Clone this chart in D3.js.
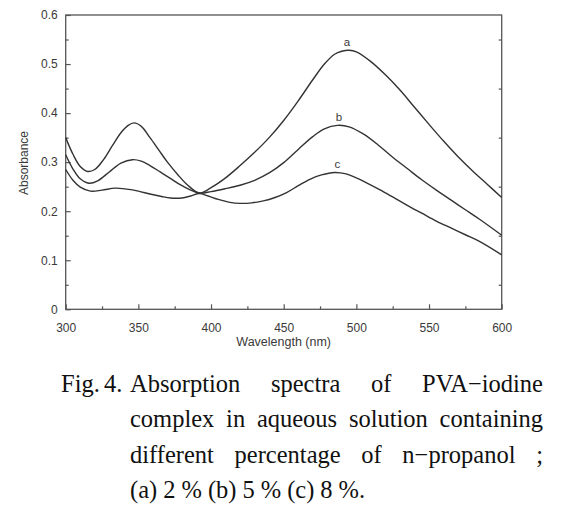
<!DOCTYPE html>
<html>
<head>
<meta charset="utf-8">
<script src="https://cdn.jsdelivr.net/npm/d3@7/dist/d3.min.js"></script>
<style>
  html, body { margin: 0; padding: 0; background: #fff; }
  svg { display: block; }
</style>
</head>
<body>
<svg id="chart" width="564" height="509"></svg>
<script>
// ---------------- data ----------------
const wavelengthA = [300,305,310,315,320,326,332,338,343,347,352,358,364,370,377,384,392,400,410,420,430,440,450,460,470,478,485,490,495,500,510,520,530,540,550,560,570,580,590,600];
const absorbA     = [0.350,0.316,0.291,0.281,0.285,0.305,0.333,0.360,0.375,0.380,0.373,0.350,0.325,0.300,0.275,0.253,0.237,0.248,0.268,0.293,0.320,0.350,0.385,0.425,0.468,0.500,0.520,0.526,0.528,0.525,0.505,0.478,0.447,0.412,0.377,0.343,0.311,0.282,0.255,0.228];

const wavelengthB = [300,305,310,316,322,330,338,346,352,358,365,372,380,392,400,410,420,430,440,450,460,470,478,487,495,505,515,525,535,545,555,565,575,585,600];
const absorbB     = [0.315,0.286,0.266,0.257,0.262,0.280,0.298,0.305,0.302,0.293,0.280,0.267,0.252,0.237,0.240,0.246,0.253,0.263,0.278,0.299,0.326,0.352,0.368,0.375,0.372,0.357,0.335,0.310,0.287,0.264,0.243,0.223,0.203,0.183,0.151];

const wavelengthC = [300,305,310,317,325,334,342,350,358,366,372,380,386,392,398,405,413,420,428,436,444,452,460,468,476,485,493,500,507,516,525,535,545,555,565,575,585,600];
const absorbC     = [0.285,0.263,0.249,0.241,0.243,0.247,0.245,0.241,0.235,0.230,0.227,0.227,0.231,0.236,0.231,0.224,0.218,0.216,0.217,0.221,0.228,0.238,0.252,0.265,0.274,0.279,0.276,0.268,0.258,0.244,0.229,0.212,0.196,0.180,0.166,0.152,0.138,0.111];

const seriesLabels = ["a", "b", "c"];
const labelWavelengths = [493.5, 488, 487];
const xTicksMajor = [300,350,400,450,500,550,600];
const xTicksMinor = [325,375,425,475,525,575];
const yTicksMajor = [0,0.1,0.2,0.3,0.4,0.5,0.6];
const yTicksMinor = [0.05,0.15,0.25,0.35,0.45,0.55];
const yTickLabels = ["0","0.1","0.2","0.3","0.4","0.5","0.6"];
const xTitle = "Wavelength (nm)";
const yTitle = "Absorbance";
const captionLines = [
  ["Absorption","spectra","of","PVA\u2212iodine"],
  ["complex","in","aqueous","solution","containing"],
  ["different","percentage","of","n\u2212propanol",";"],
  ["(a)","2","%","(b)","5","%","(c)","8","%."]
];
const captionLead = ["Fig.", "4."];

// ---------------- layout ----------------
const svg = d3.select("#chart");
const X0 = 65.7, X1 = 501.7, Y0 = 309.3, Y1 = 15;
const x = d3.scaleLinear().domain([300,600]).range([X0, X1]);
const y = d3.scaleLinear().domain([0,0.6]).range([Y0, Y1]);
const ink = "#3a3a3a";
const sans = "'Liberation Sans', Arial, sans-serif";

// frame
svg.append("rect")
  .attr("x", X0).attr("y", Y1)
  .attr("width", X1 - X0).attr("height", Y0 - Y1)
  .attr("fill", "none").attr("stroke", "#555").attr("stroke-width", 1.3);

// bottom axis (ticks inward)
const bottom = svg.append("g").attr("transform", `translate(0,${Y0})`);
bottom.call(d3.axisBottom(x).tickValues(xTicksMajor).tickSize(-5).tickPadding(14).tickFormat(d3.format("d")));
bottom.append("g").call(d3.axisBottom(x).tickValues(xTicksMinor).tickSize(-3).tickFormat(""));
// left axis
const left = svg.append("g").attr("transform", `translate(${X0},0)`);
left.call(d3.axisLeft(y).tickValues(yTicksMajor).tickSize(-5).tickPadding(8).tickFormat((d,i) => yTickLabels[i]));
left.append("g").call(d3.axisLeft(y).tickValues(yTicksMinor).tickSize(-3).tickFormat(""));
// right axis (only odd minor ticks)
const right = svg.append("g").attr("transform", `translate(${X1},0)`);
right.call(d3.axisRight(y).tickValues(yTicksMinor).tickSize(-3).tickFormat(""));

svg.selectAll(".domain").remove();
svg.selectAll(".tick line").attr("stroke", "#555").attr("stroke-width", 1.2);
svg.selectAll(".tick text").attr("fill", ink).attr("font-family", sans).attr("font-size", 12);

// axis titles
svg.append("text").attr("x", (X0 + X1) / 2).attr("y", 346)
  .attr("text-anchor", "middle").attr("font-family", sans).attr("font-size", 12.5).attr("fill", ink)
  .text(xTitle);
svg.append("text").attr("transform", "translate(28,163) rotate(-90)")
  .attr("text-anchor", "middle").attr("font-family", sans).attr("font-size", 12).attr("fill", ink)
  .text(yTitle);

// curves
const line = d3.line().x(d => x(d[0])).y(d => y(d[1])).curve(d3.curveCatmullRom.alpha(0.5));
const curves = [
  d3.zip(wavelengthA, absorbA),
  d3.zip(wavelengthB, absorbB),
  d3.zip(wavelengthC, absorbC)
];
svg.append("g").selectAll("path").data(curves).join("path")
  .attr("d", line).attr("fill", "none").attr("stroke", "#333").attr("stroke-width", 1.4);

// curve labels above peaks
curves.forEach((pts, i) => {
  const peak = d3.max(pts.filter(p => p[0] > 450), p => p[1]);
  svg.append("text").attr("x", x(labelWavelengths[i])).attr("y", y(peak) - 4)
    .attr("text-anchor", "middle").attr("font-family", sans).attr("font-size", 11.5).attr("fill", ink)
    .text(seriesLabels[i]);
});

// caption
const serif = "'Liberation Serif', 'DejaVu Serif', serif";
const capIndent = 130, capRight = 543, capBase = 392, capStep = 35.3, capSize = 24.5;
svg.append("text").attr("x", 61).attr("y", capBase)
  .attr("font-family", serif).attr("font-size", capSize).attr("fill", "#111").text(captionLead[0]);
svg.append("text").attr("x", 104).attr("y", capBase)
  .attr("font-family", serif).attr("font-size", capSize).attr("fill", "#111").text(captionLead[1]);
captionLines.forEach((words, li) => {
  const yy = capBase + li * capStep;
  const nodes = words.map(w => svg.append("text").attr("y", yy)
    .attr("font-family", serif).attr("font-size", capSize).attr("fill", "#111").text(w));
  const widths = nodes.map(n => n.node().getComputedTextLength());
  const total = d3.sum(widths);
  const gap = li < 3 ? (capRight - capIndent - total) / (words.length - 1) : 6;
  let cx = capIndent;
  nodes.forEach((n, k) => { n.attr("x", cx); cx += widths[k] + gap; });
});
</script>
</body>
</html>
